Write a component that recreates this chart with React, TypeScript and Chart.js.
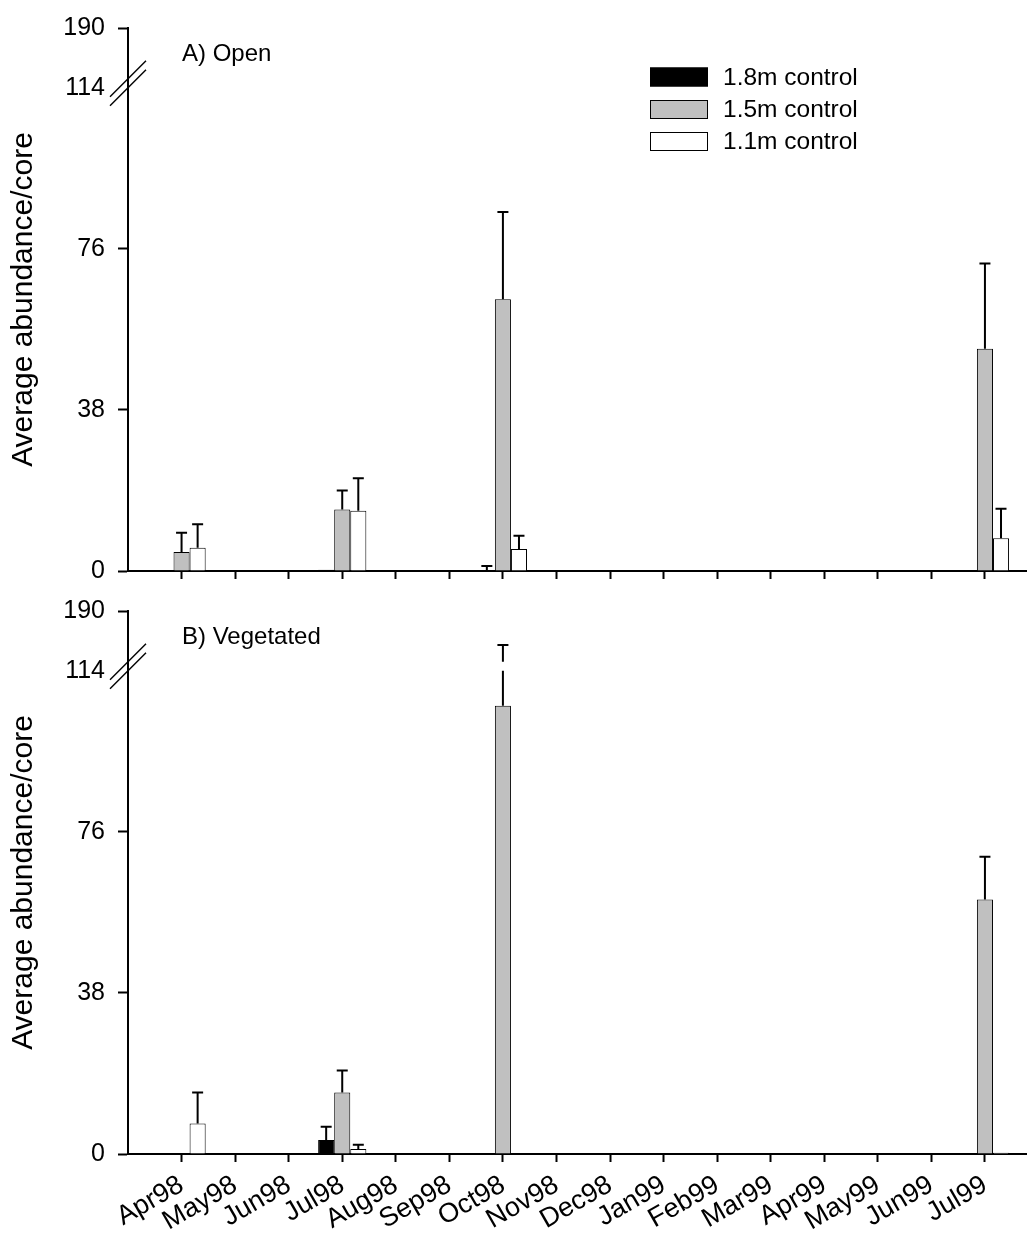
import React, { useEffect, useRef } from 'react';
import { Chart, registerables, LinearScale } from 'chart.js';

Chart.register(...registerables);

// ---------- data ----------
const MONTHS = ['Apr98', 'May98', 'Jun98', 'Jul98', 'Aug98', 'Sep98', 'Oct98', 'Nov98', 'Dec98', 'Jan99', 'Feb99', 'Mar99', 'Apr99', 'May99', 'Jun99', 'Jul99'];
const SERIES = ['1.8m control', '1.5m control', '1.1m control'];
const SERIES_COLORS = ['#000000', '#c0c0c0', '#ffffff'];
const Y_TICKS = [0, 38, 76, 114, 190];
const Y_BREAK = 114;
const Y_MAX = 190;
const Y_TITLE = 'Average abundance/core';

// A) Open — means and upper error (SE)
const OPEN_18_MEAN = [null, null, null, 0.3, null, null, 0.15, null, null, null, null, null, null, null, null, null];
const OPEN_18_ERR = [null, null, null, null, null, null, 1.05, null, null, null, null, null, null, null, null, null];
const OPEN_15_MEAN = [4.5, null, null, 14.5, null, null, 64.1, null, null, null, null, null, null, null, null, 52.4];
const OPEN_15_ERR = [4.5, null, null, 4.5, null, null, 20.6, null, null, null, null, null, null, null, null, 20.1];
const OPEN_11_MEAN = [5.5, null, null, 14.2, null, null, 5.2, null, null, null, null, null, null, null, null, 7.7];
const OPEN_11_ERR = [5.5, null, null, 7.7, null, null, 3.1, null, null, null, null, null, null, null, null, 7.0];

// B) Vegetated
const VEG_18_MEAN = [null, null, null, 3.3, null, null, null, null, null, null, null, null, null, null, null, null];
const VEG_18_ERR = [null, null, null, 3.1, null, null, null, null, null, null, null, null, null, null, null, null];
const VEG_15_MEAN = [null, null, null, 14.5, null, null, 105.7, null, null, null, null, null, null, null, null, 60.0];
const VEG_15_ERR = [null, null, null, 5.2, null, null, 33.2, null, null, null, null, null, null, null, null, 10.1];
const VEG_11_MEAN = [7.2, null, null, 1.2, null, null, null, null, null, null, null, null, null, null, null, 0.3];
const VEG_11_ERR = [7.3, null, null, 1.0, null, null, null, null, null, null, null, null, null, null, null, null];

// ---------- layout constants ----------
const FONT = "'Liberation Sans', Arial, Helvetica, sans-serif";
const LOWER_FRAC = 486 / 546;
const GAP_FRAC = 9 / 546;

function brokenDecimal(v: number, min: number, max: number) {
  if (v <= Y_BREAK) return ((v - min) / (Y_BREAK - min)) * LOWER_FRAC;
  return LOWER_FRAC + GAP_FRAC + ((v - Y_BREAK) / (max - Y_BREAK)) * (1 - LOWER_FRAC - GAP_FRAC);
}

class BrokenLinearScale extends LinearScale {
  static id = 'brokenLinear';
  static defaults = LinearScale.defaults;
  getPixelForValue(value: any) {
    return this.getPixelForDecimal(brokenDecimal(+value, this.min, this.max));
  }
  getValueForPixel(pixel: number) {
    const d = this.getDecimalForPixel(pixel);
    if (d <= LOWER_FRAC) return this.min + (d / LOWER_FRAC) * (Y_BREAK - this.min);
    return Y_BREAK + ((d - LOWER_FRAC - GAP_FRAC) / (1 - LOWER_FRAC - GAP_FRAC)) * (this.max - Y_BREAK);
  }
}
Chart.register(BrokenLinearScale as any);

const pad = (arr: (number | null)[]) => [null, ...arr, null];

const errorBarPlugin = {
  id: 'errorBars',
  afterDatasetsDraw(chart: any) {
    const ctx = chart.ctx;
    const ys = chart.scales.y;
    const breakPix = ys.getPixelForValue(Y_BREAK);
    const gapTopPix = ys.getPixelForDecimal(LOWER_FRAC + GAP_FRAC);
    ctx.save();
    ctx.strokeStyle = '#000';
    ctx.lineWidth = 2;
    chart.data.datasets.forEach((ds: any, i: number) => {
      const meta = chart.getDatasetMeta(i);
      (ds.errors || []).forEach((e: number | null, j: number) => {
        const v = ds.data[j];
        if (v == null || e == null) return;
        const bar = meta.data[j];
        const x = bar.x;
        const y0 = bar.y;
        const y1 = ys.getPixelForValue(v + e);
        ctx.beginPath();
        if (y1 < gapTopPix && y0 > breakPix) {
          ctx.moveTo(x, y0);
          ctx.lineTo(x, breakPix);
          ctx.moveTo(x, gapTopPix);
          ctx.lineTo(x, y1);
        } else {
          ctx.moveTo(x, y0);
          ctx.lineTo(x, y1);
        }
        ctx.moveTo(x - 5.5, y1);
        ctx.lineTo(x + 5.5, y1);
        ctx.stroke();
      });
    });
    ctx.restore();
  },
};

const axisBreakPlugin = {
  id: 'axisBreak',
  afterDraw(chart: any) {
    const ctx = chart.ctx;
    const ys = chart.scales.y;
    const x = chart.chartArea.left;
    const p1 = ys.getPixelForValue(Y_BREAK);
    const p2 = ys.getPixelForDecimal(LOWER_FRAC + GAP_FRAC);
    ctx.save();
    ctx.strokeStyle = '#000';
    ctx.lineWidth = 1.5;
    [p1, p2].forEach((p) => {
      ctx.beginPath();
      ctx.moveTo(x - 18, p + 18);
      ctx.lineTo(x + 18, p - 18);
      ctx.stroke();
    });
    ctx.restore();
  },
};

const annotPlugin = {
  id: 'annot',
  afterDraw(chart: any, _args: any, opts: any) {
    const ctx = chart.ctx;
    const { left, top } = chart.chartArea;
    ctx.save();
    ctx.fillStyle = '#000';
    ctx.font = `24px ${FONT}`;
    ctx.textBaseline = 'middle';
    ctx.textAlign = 'left';
    ctx.fillText(opts.title, left + 54, top + 26);
    if (opts.legend) {
      ctx.font = `24.5px ${FONT}`;
      const bx = 650;
      const rows = [77, 109.5, 141.5];
      SERIES.forEach((name, i) => {
        ctx.fillStyle = SERIES_COLORS[i];
        ctx.fillRect(bx, rows[i] - 9.5, 58, 19);
        ctx.strokeStyle = '#000';
        ctx.lineWidth = 1;
        ctx.strokeRect(bx + 0.5, rows[i] - 9, 57, 18);
        ctx.fillStyle = '#000';
        ctx.fillText(name, 723, rows[i] + 1);
      });
    }
    ctx.restore();
  },
};

function makeChart(canvas: HTMLCanvasElement, means: (number | null)[][], errs: (number | null)[][], title: string, showLabels: boolean, legend: boolean, xHeight: number) {
  const labels = ['', ...MONTHS, ''];
  return new Chart(canvas, {
    type: 'bar',
    data: {
      labels,
      datasets: SERIES.map((name, i) => ({
        label: name,
        data: pad(means[i]),
        errors: pad(errs[i]),
        backgroundColor: SERIES_COLORS[i],
        borderColor: '#000',
        borderWidth: 1,
        categoryPercentage: 0.9,
        barPercentage: 1.0,
      })) as any,
    },
    options: {
      responsive: false,
      maintainAspectRatio: false,
      animation: false,
      layout: { padding: { top: 25, left: 0, right: 6.5, bottom: 0 } },
      plugins: {
        legend: { display: false },
        tooltip: { enabled: false },
        annot: { title, legend },
      } as any,
      scales: {
        x: {
          type: 'category',
          offset: false,
          grid: {
            display: true,
            offset: false,
            drawOnChartArea: false,
            drawTicks: true,
            tickLength: 8,
            tickWidth: 2,
            tickColor: (c: any) => (c.index === 0 || c.index === labels.length - 1 ? 'rgba(0,0,0,0)' : '#000'),
          },
          border: { display: true, color: '#000', width: 2 },
          ticks: {
            autoSkip: false,
            minRotation: 30,
            maxRotation: 30,
            padding: 7,
            color: '#000',
            font: { family: FONT, size: 27 },
            callback: (_v: any, i: number) => (showLabels ? labels[i] : ''),
          },
          afterFit: (s: any) => {
            s.height = xHeight;
            s.paddingLeft = 0;
            s.paddingRight = 0;
          },
        },
        y: {
          type: 'brokenLinear' as any,
          min: 0,
          max: Y_MAX,
          afterBuildTicks: (s: any) => {
            s.ticks = Y_TICKS.map((v) => ({ value: v }));
          },
          afterFit: (s: any) => {
            s.width = 128;
          },
          grid: {
            display: true,
            drawOnChartArea: false,
            drawTicks: true,
            tickLength: 10,
            tickWidth: 2,
            tickColor: (c: any) => (c.tick && c.tick.value === Y_BREAK ? 'rgba(0,0,0,0)' : '#000'),
          },
          border: { display: true, color: '#000', width: 2 },
          ticks: {
            padding: 13,
            color: '#000',
            font: { family: FONT, size: 25 },
            callback: (v: any) => String(v),
          },
          title: {
            display: true,
            text: Y_TITLE,
            color: '#000',
            font: { family: FONT, size: 30 },
            padding: { top: 6, bottom: 0 },
          },
        },
      } as any,
    },
    plugins: [errorBarPlugin, axisBreakPlugin, annotPlugin],
  });
}

export default function App() {
  const topRef = useRef<HTMLCanvasElement>(null);
  const botRef = useRef<HTMLCanvasElement>(null);
  useEffect(() => {
    const a = makeChart(topRef.current!, [OPEN_18_MEAN, OPEN_15_MEAN, OPEN_11_MEAN], [OPEN_18_ERR, OPEN_15_ERR, OPEN_11_ERR], 'A) Open', false, true, 29);
    const b = makeChart(botRef.current!, [VEG_18_MEAN, VEG_15_MEAN, VEG_11_MEAN], [VEG_18_ERR, VEG_15_ERR, VEG_11_ERR], 'B) Vegetated', true, false, 79);
    return () => {
      a.destroy();
      b.destroy();
    };
  }, []);
  return (
    <div style={{ position: 'absolute', left: 0, top: 0, width: 1027, height: 1233, overflow: 'hidden', background: '#fff' }}>
      <canvas ref={topRef} width={1045} height={600} style={{ position: 'absolute', left: 0, top: 0 }} />
      <canvas ref={botRef} width={1045} height={650} style={{ position: 'absolute', left: 0, top: 583 }} />
    </div>
  );
}
